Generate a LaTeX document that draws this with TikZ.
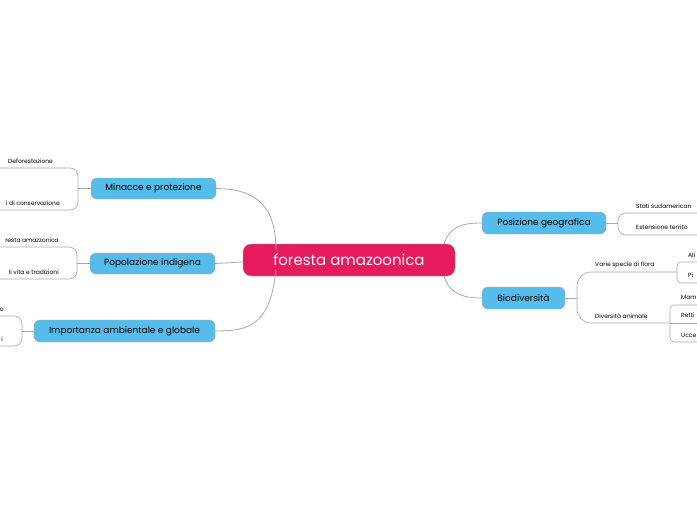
\documentclass[tikz,border=0pt]{standalone}
\usepackage{fontspec}
\setmainfont{Poppins}
\definecolor{pinkc}{HTML}{E61B5E}
\definecolor{bluec}{HTML}{56BDEB}
\definecolor{linec}{HTML}{A8A8A8}
\begin{document}
\begin{tikzpicture}[x=1pt,y=-1pt,
  topic/.style={draw=linec,fill=bluec,rounded corners=6pt,font=\fontsize{9}{10}\selectfont,text=black,inner sep=0pt},
  lab/.style={font=\fontsize{6}{7}\selectfont,text=black,inner sep=0pt},
  conn/.style={draw=linec,line width=0.8pt},
  sub/.style={draw=linec,line width=0.6pt,rounded corners=8pt}]
\useasboundingbox (0,0) rectangle (697,520);
\clip (0,0) rectangle (697,520);
\node[draw=linec,fill=pinkc,rounded corners=8pt,minimum width=212pt,minimum height=32pt,text=white,font=\fontsize{15}{16}\selectfont,inner sep=0pt] (c) at (349,260) {foresta amazoonica};
\node[topic,minimum width=125pt,minimum height=21pt] (m) at (153.5,188.5) {Minacce e protezione};
\node[topic,minimum width=125pt,minimum height=21pt] (p) at (152.5,263.5) {Popolazione indigena};
\node[topic,minimum width=181pt,minimum height=22pt] (i) at (124.5,331) {Importanza ambientale e globale};
\node[topic,minimum width=124pt,minimum height=22pt] (g) at (544,223) {Posizione geografica};
\node[topic,minimum width=83pt,minimum height=22pt] (b) at (523.5,298) {Biodiversità};
\draw[conn] (276,250) .. controls (276,200) and (250,189) .. (m.east);
\draw[conn] (243,262) .. controls (230,263) .. (p.east);
\draw[conn] (276,270) .. controls (270,325) and (250,331) .. (i.east);
\draw[conn] (444,244) .. controls (450,225) and (465,223) .. (g.west);
\draw[conn] (444,276) .. controls (450,295) and (465,298) .. (b.west);
% left sub-branches
\draw[sub] (m.west) -- (78,188.5);
\draw[sub] (0,168) -- (78,168) -- (78,210) -- (0,210);
\node[lab,anchor=south west] (m1) at (8,164) {Deforestazione};
\node[lab,anchor=south east] (m2) at (60,206) {i di conservazione};
\draw[sub] (p.west) -- (77,263.5);
\draw[sub] (0,247) -- (77,247) -- (77,279) -- (0,279);
\node[lab,anchor=south east] (p1) at (59,243) {resta amazzonica};
\node[lab,anchor=south east] (p2) at (59,275) {li vita e tradizioni};
\draw[sub] (i.west) -- (22,331);
\draw[sub] (0,316) -- (22,316) -- (22,346) -- (0,346);
\node[lab,anchor=south east] (i1) at (4,312) {o};
\node[lab,anchor=south east] (i2) at (3,342) {i};
% right
\draw[sub] (g.east) -- (618,223);
\draw[sub] (697,213) -- (618,213) -- (618,235) -- (697,235);
\node[lab,anchor=south west] (g1) at (636,209) {Stati sudamerican};
\node[lab,anchor=south west] (g2) at (636,230) {Estensione territo};
\draw[sub,rounded corners=14pt] (b.east) -- (577,298);
\draw[sub,rounded corners=14pt] (677,272) -- (577,272) -- (577,323) -- (670,323);
\node[lab,anchor=south west] (f) at (595,268) {Varie specie di flora};
\node[lab,anchor=south west] (a) at (595,319) {Diversità animale};
\draw[sub,rounded corners=4pt] (697,262) -- (677,262) -- (677,283) -- (697,283);
\node[lab,anchor=south west] (f1) at (688,258) {All};
\node[lab,anchor=south west] (f2) at (688,278) {Pi};
\draw[sub,rounded corners=4pt] (697,305) -- (670,305) -- (670,342) -- (697,342);
\draw[sub] (670,323) -- (697,323);
\node[lab,anchor=south west] (a1) at (681,300) {Mam};
\node[lab,anchor=south west] (a2) at (681,318) {Retti};
\node[lab,anchor=south west] (a3) at (681,338) {Ucce};
\end{tikzpicture}
\end{document}
